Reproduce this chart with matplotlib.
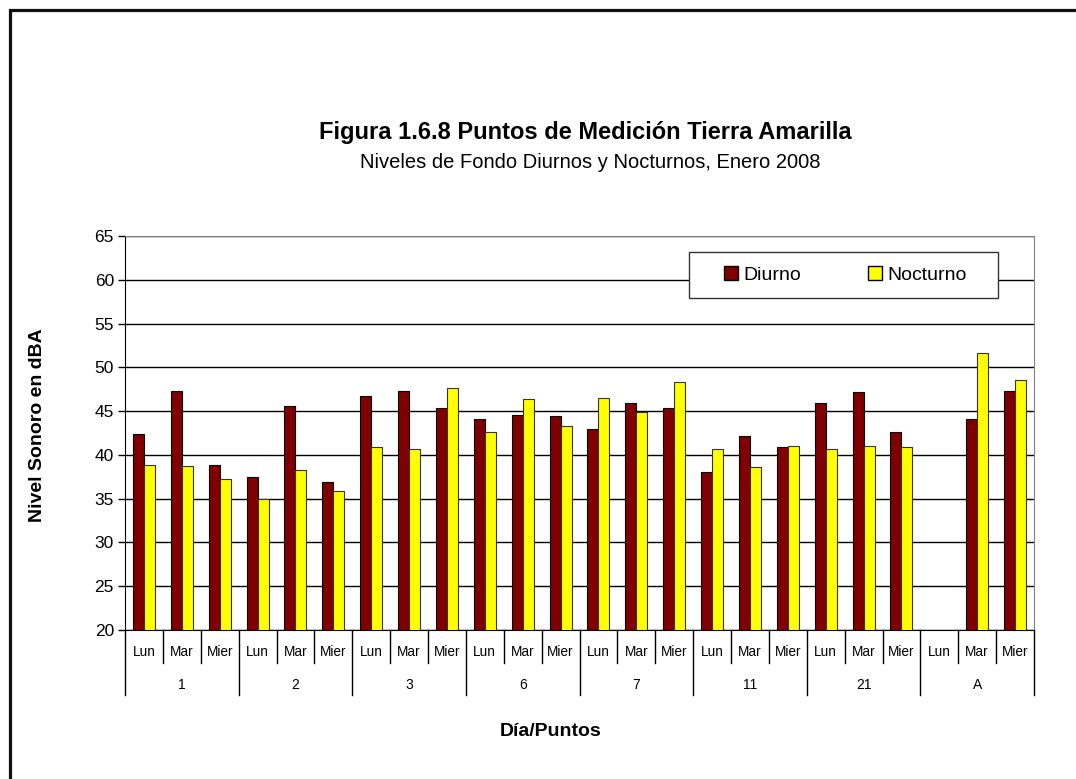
import numpy as np
import matplotlib
matplotlib.use("Agg")
import matplotlib.pyplot as plt
from matplotlib.lines import Line2D
from matplotlib.patches import Rectangle, Patch

plt.rcParams['font.family'] = ['Liberation Sans', 'DejaVu Sans']

# puntos de medición y días
puntos = ['1', '2', '3', '6', '7', '11', '21', 'A']
dias = ['Lun', 'Mar', 'Mier']

# niveles en dBA, orden: punto -> Lun, Mar, Mier
diurno = [42.4, 47.3, 38.8,
          37.5, 45.6, 36.9,
          46.7, 47.3, 45.3,
          44.1, 44.5, 44.4,
          43.0, 45.9, 45.4,
          38.1, 42.2, 40.9,
          45.9, 47.2, 42.6,
          np.nan, 44.1, 47.3]
nocturno = [38.8, 38.7, 37.3,
            35.0, 38.3, 35.9,
            40.9, 40.7, 47.6,
            42.6, 46.4, 43.3,
            46.5, 44.9, 48.3,
            40.7, 38.6, 41.0,
            40.7, 41.0, 40.9,
            np.nan, 51.6, 48.5]

col_d = '#800000'
col_n = '#ffff00'

W, H = 1076, 779
fig = plt.figure(figsize=(W / 100, H / 100), dpi=100)
ax = fig.add_axes([125 / W, 1 - 630 / H, 909 / W, 394 / H])

n = len(diurno)
x = np.arange(n)
bw = 0.29
ax.bar(x - bw / 2, diurno, bw, color=col_d, edgecolor='black', linewidth=0.8, zorder=3)
ax.bar(x + bw / 2, nocturno, bw, color=col_n, edgecolor='#333333', linewidth=0.8, zorder=3)

ax.set_xlim(-0.5, n - 0.5)
ax.set_ylim(20, 65)
ax.set_yticks(np.arange(20, 66, 5))
ax.tick_params(axis='y', labelsize=12.5, length=5, width=1, direction='out', pad=3)
ax.set_xticks([])
ax.yaxis.grid(True, color='black', linewidth=1)
ax.set_axisbelow(True)
for s in ['top', 'right']:
    ax.spines[s].set_color('#808080')
ax.spines['left'].set_color('black')
ax.spines['bottom'].set_color('black')

# eje de categorías en dos niveles
tr = ax.get_xaxis_transform()
h_ax = 394.0
for b in range(n + 1):
    xb = b - 0.5
    low = -65 / h_ax if b % 3 == 0 else -33 / h_ax
    ax.plot([xb, xb], [0, low], color='black', lw=1, transform=tr, clip_on=False)
for i in range(n):
    ax.text(i, -22 / h_ax, dias[i % 3], transform=tr, ha='center', va='center', fontsize=9.8)
for g, p in enumerate(puntos):
    ax.text(g * 3 + 1, -55 / h_ax, p, transform=tr, ha='center', va='center', fontsize=10)

# títulos
fig.text(585 / W, 1 - 133 / H, 'Figura 1.6.8 Puntos de Medición Tierra Amarilla',
         ha='center', va='center', fontsize=17, fontweight='bold')
fig.text(590 / W, 1 - 163 / H, 'Niveles de Fondo Diurnos y Nocturnos, Enero 2008',
         ha='center', va='center', fontsize=14.5)
fig.text(38 / W, 1 - 425 / H, 'Nivel Sonoro en dBA', rotation=90,
         ha='center', va='center', fontsize=14, fontweight='bold')
fig.text(551 / W, 1 - 731 / H, 'Día/Puntos', ha='center', va='center',
         fontsize=14, fontweight='bold')

# leyenda
box = Rectangle((689 / W, 1 - 298 / H), 309 / W, 46 / H, transform=fig.transFigure,
                facecolor='white', edgecolor='#333333', linewidth=1, zorder=2)
fig.add_artist(box)
handles = [Patch(facecolor=col_d, edgecolor='black', label='Diurno'),
           Patch(facecolor=col_n, edgecolor='black', label='Nocturno')]
fig.legend(handles=handles, loc='center left', bbox_to_anchor=(724 / W, 1 - 275 / H),
           ncol=2, frameon=False, fontsize=14, handlelength=0.7, handleheight=0.7,
           handletextpad=0.3, columnspacing=3.45, borderpad=0, borderaxespad=0)

# marco exterior
fig.add_artist(Line2D([9.5 / W, 9.5 / W, 1], [0, 1 - 10 / H, 1 - 10 / H], color='#111111',
                      lw=2.3, solid_joinstyle='miter', transform=fig.transFigure))

fig.savefig('out.png', dpi=100)
